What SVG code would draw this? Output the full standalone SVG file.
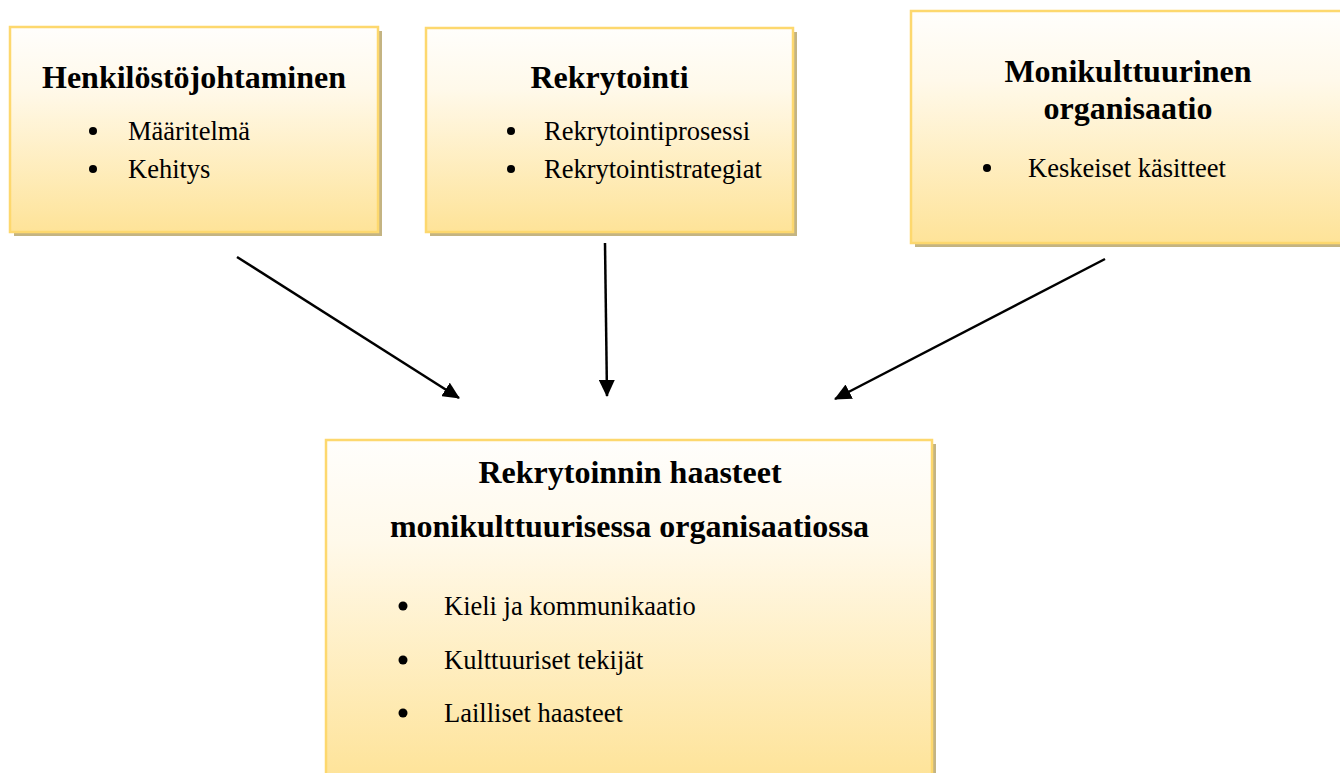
<svg xmlns="http://www.w3.org/2000/svg" width="1340" height="773" viewBox="0 0 1340 773">
<defs>
<linearGradient id="g" x1="0" y1="0" x2="0" y2="1">
<stop offset="0" stop-color="#fffefc"/>
<stop offset="0.3" stop-color="#fff9ea"/>
<stop offset="1" stop-color="#fee398"/>
</linearGradient>
<marker id="ah" viewBox="0 0 17 16" refX="16" refY="8" markerWidth="17" markerHeight="16" markerUnits="userSpaceOnUse" orient="auto">
<path d="M0,0 L17,8 L0,16 Z" fill="#000"/>
</marker>
<style>
.shadow{fill:#c4b482}
.box{fill:url(#g);stroke:#fdd86e;stroke-width:2.5}
.title{font-family:"Liberation Serif","Times New Roman","DejaVu Serif",serif;font-weight:bold;font-size:32px;fill:#000;text-anchor:middle}
.item{font-family:"Liberation Serif","Times New Roman","DejaVu Serif",serif;font-size:26.5px;fill:#000}
.dot{fill:#000}
.conn{stroke:#000;stroke-width:2.5;fill:none;marker-end:url(#ah)}
</style>
</defs>
<rect width="1340" height="773" fill="#fff"/>

<g id="node-henkilostojohtaminen">
<rect class="shadow" x="14" y="31" width="368" height="205"/>
<rect class="box" x="10" y="27" width="368" height="205"/>
<text class="title" x="194" y="88">Henkilöstöjohtaminen</text>
<circle class="dot" cx="93" cy="131" r="4"/>
<text class="item" x="128" y="140">Määritelmä</text>
<circle class="dot" cx="93" cy="169" r="4"/>
<text class="item" x="128" y="178">Kehitys</text>
</g>

<g id="node-rekrytointi">
<rect class="shadow" x="430" y="32" width="367" height="204"/>
<rect class="box" x="426" y="28" width="367" height="204"/>
<text class="title" x="609.5" y="88">Rekrytointi</text>
<circle class="dot" cx="511" cy="131" r="4"/>
<text class="item" x="544" y="140">Rekrytointiprosessi</text>
<circle class="dot" cx="511" cy="169" r="4"/>
<text class="item" x="544" y="178">Rekrytointistrategiat</text>
</g>

<g id="node-monikulttuurinen">
<rect class="shadow" x="915" y="15" width="440" height="232"/>
<rect class="box" x="911" y="11" width="440" height="232"/>
<text class="title" x="1128" y="82">Monikulttuurinen</text>
<text class="title" x="1128" y="119">organisaatio</text>
<circle class="dot" cx="987" cy="168" r="4"/>
<text class="item" x="1028" y="177">Keskeiset käsitteet</text>
</g>

<g id="node-haasteet">
<rect class="shadow" x="330" y="444" width="606" height="340"/>
<rect class="box" x="326" y="440" width="606" height="340"/>
<text class="title" x="630" y="483">Rekrytoinnin haasteet</text>
<text class="title" x="629.5" y="537">monikulttuurisessa organisaatiossa</text>
<circle class="dot" cx="403" cy="606" r="4.5"/>
<text class="item" x="444" y="615">Kieli ja kommunikaatio</text>
<circle class="dot" cx="403" cy="660" r="4.5"/>
<text class="item" x="444" y="669">Kulttuuriset tekijät</text>
<circle class="dot" cx="403" cy="713" r="4.5"/>
<text class="item" x="444" y="722">Lailliset haasteet</text>
</g>

<g id="connectors">
<line class="conn" x1="237" y1="257" x2="459" y2="398"/>
<line class="conn" x1="605" y1="243" x2="607" y2="396"/>
<line class="conn" x1="1105" y1="259" x2="835" y2="399"/>
</g>
</svg>
